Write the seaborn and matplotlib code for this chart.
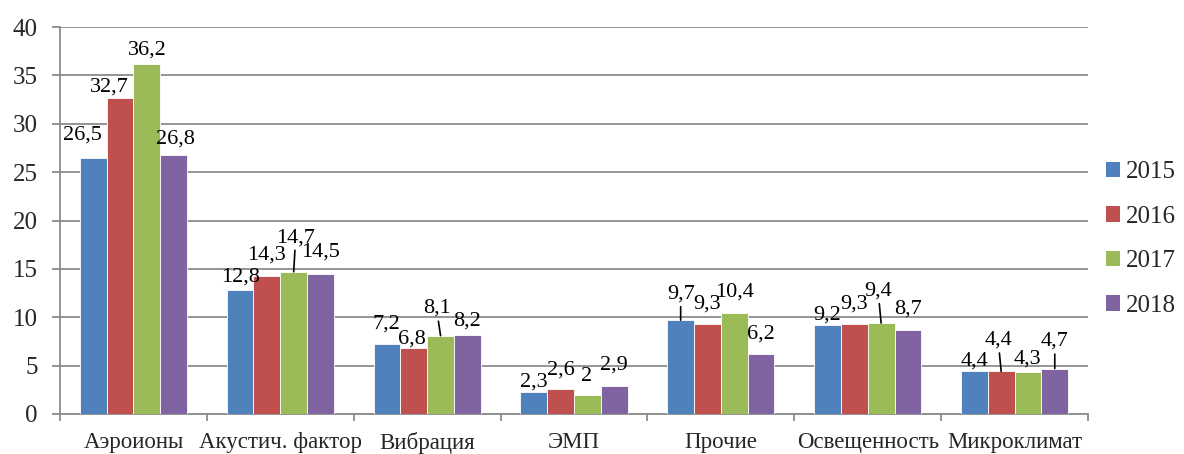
import numpy as np
import pandas as pd
import seaborn as sns
import matplotlib
matplotlib.use("Agg")
import matplotlib.pyplot as plt
from matplotlib.patches import Patch

# Data
categories = ["Аэроионы", "Акустич. фактор", "Вибрация", "ЭМП",
              "Прочие", "Освещенность", "Микроклимат"]
years = ["2015", "2016", "2017", "2018"]
values_2015 = [26.5, 12.8, 7.2, 2.3, 9.7, 9.2, 4.4]
values_2016 = [32.7, 14.3, 6.8, 2.6, 9.3, 9.3, 4.4]
values_2017 = [36.2, 14.7, 8.1, 2.0, 10.4, 9.4, 4.3]
values_2018 = [26.8, 14.5, 8.2, 2.9, 6.2, 8.7, 4.7]
series = [values_2015, values_2016, values_2017, values_2018]

colors = ["#4F81BD", "#C0504D", "#9BBB59", "#8064A2"]

df = pd.DataFrame({
    "category": np.repeat([categories], len(years), axis=0).ravel(),
    "year": np.repeat(years, len(categories)),
    "value": np.concatenate(series),
})

sns.set_theme(style="white")
plt.rcParams["font.family"] = ["Liberation Serif", "DejaVu Serif"]
plt.rcParams["font.size"] = 16

fig = plt.figure(figsize=(11.84, 4.54), dpi=100)
ax = fig.add_axes([60 / 1184, 1 - 414 / 454, (1088 - 60) / 1184, (414 - 27) / 454])

sns.barplot(data=df, x="category", y="value", hue="year", order=categories,
            hue_order=years, palette=colors, saturation=1, width=0.73,
            errorbar=None, edgecolor="white", linewidth=0.6, legend=False,
            ax=ax, zorder=3)

grid_c = "#8C8C8C"
ax.set_ylim(0, 40)
ax.set_xlim(-0.5, len(categories) - 0.5)
ax.set_yticks(range(0, 41, 5))
ax.yaxis.grid(True, color=grid_c, linewidth=1.3, zorder=0)
ax.xaxis.grid(False)
ax.set_axisbelow(True)
for s in ["top", "right"]:
    ax.spines[s].set_visible(False)
for s in ["left", "bottom"]:
    ax.spines[s].set_color(grid_c)
    ax.spines[s].set_linewidth(1.3)
ax.set_xlabel("")
ax.set_ylabel("")
ax.tick_params(axis="y", length=6, width=1.3, color=grid_c, pad=10,
               labelsize=18, left=True)
ax.tick_params(axis="x", which="major", length=0, pad=13, labelsize=16.5)
ax.set_xticks(np.arange(-0.5, len(categories), 1.0), minor=True)
ax.tick_params(axis="x", which="minor", length=5, width=1.3, color=grid_c,
               bottom=True)

# Label offsets in pixels (dx, dy of digit centre from the bar top),
# and whether the label is joined to its bar by a leader line.
label_offsets = [
    [(-11, -25), (-11, -13), (0, -17), (2, -18)],
    [(0, -16), (0, -23), (2, -37), (0, -24)],
    [(-1, -23), (-2, -12), (-4, -30), (0, -16)],
    [(0, -13), (0, -22), (-1, -21), (0, -24)],
    [(0, -29), (0, -23), (0, -24), (0, -23)],
    [(0, -13), (0, -23), (-3, -35), (0, -24)],
    [(0, -13), (-3, -34), (-1, -16), (0, -30)],
]
leaders = {(1, 2), (2, 2), (4, 0), (5, 2), (6, 1), (6, 3)}

px = 72 / 100  # points per pixel
for j, cont in enumerate(ax.containers):
    vals = series[j]
    for i, rect in enumerate(cont):
        v = vals[i]
        xc = rect.get_x() + rect.get_width() / 2
        txt = f"{v:g}".replace(".", ",")
        dx, dy = label_offsets[i][j]
        # baseline sits about 7 px below the digit centre
        off = (dx * px, -(dy + 7.3) * px)
        if (i, j) in leaders:
            ax.annotate(txt, xy=(xc, v), xytext=off, textcoords="offset points",
                        ha="center", va="baseline", fontsize=16, color="black",
                        arrowprops=dict(arrowstyle="-", color="black", lw=1.2,
                                        shrinkA=0, shrinkB=0),
                        zorder=5, annotation_clip=False)
        else:
            ax.annotate(txt, xy=(xc, v), xytext=off, textcoords="offset points",
                        ha="center", va="baseline", fontsize=16, color="black",
                        zorder=5, annotation_clip=False)

handles = [Patch(facecolor=c, edgecolor="none", label=y) for c, y in zip(colors, years)]
fig.legend(handles=handles, loc="center left",
           bbox_to_anchor=(1106 / 1184, 1 - 239 / 454), frameon=False,
           fontsize=18, handlelength=0.56, handleheight=0.56,
           handletextpad=0.25, labelspacing=0.9, borderpad=0, borderaxespad=0)

fig.savefig("out.png", dpi=100)
